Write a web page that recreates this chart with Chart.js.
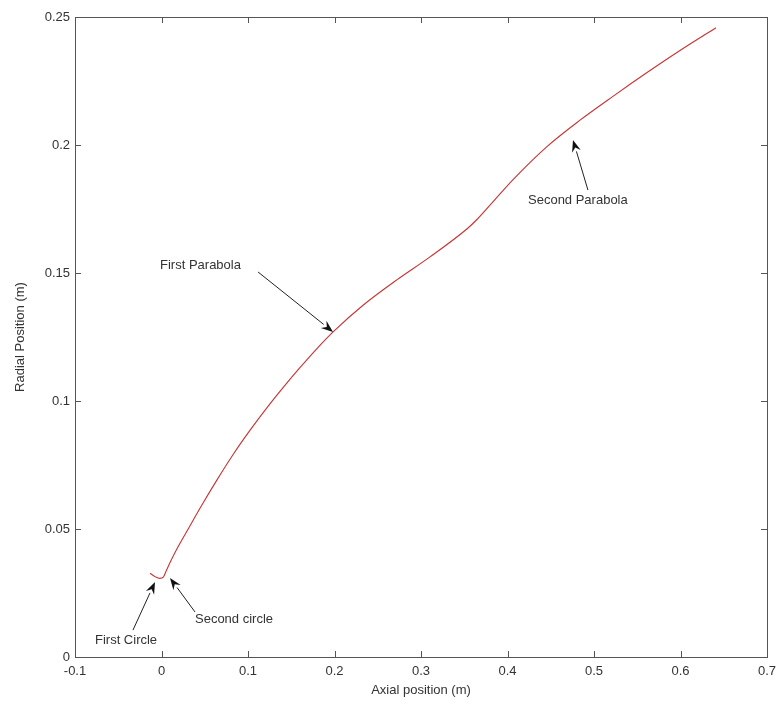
<!DOCTYPE html>
<html>
<head>
    <title>Radial vs Axial position</title>
    <script src="https://cdn.jsdelivr.net/npm/chart.js"></script>
    <style>
        html, body { margin: 0; padding: 0; background: #fff; }
        .chart-container { width: 780px; height: 706px; }
    </style>
</head>
<body>
<div class="chart-container">
    <canvas id="profileChart"></canvas>
</div>

<script>
    // curve (m)
    const axialPos = [-0.0133, -0.0070, -0.0020, 0.0021, 0.0050, 0.0100, 0.0176, 0.032, 0.045, 0.064,
        0.083, 0.102, 0.122, 0.141, 0.160, 0.180, 0.199, 0.233, 0.272, 0.310,
        0.353, 0.3644, 0.386, 0.4067, 0.4453, 0.4838, 0.5223, 0.5609, 0.5994, 0.641];
    const radialPos = [0.0327, 0.0313, 0.0307, 0.0312, 0.0333, 0.0370, 0.0421, 0.0507, 0.0584, 0.0691,
        0.0792, 0.0884, 0.0974, 0.1054, 0.1130, 0.1206, 0.1272, 0.1374, 0.1473, 0.1562,
        0.1672, 0.1708, 0.1789, 0.1866, 0.1993, 0.2097, 0.2191, 0.2282, 0.2369, 0.2458];

    const xTicks = [-0.1, 0, 0.1, 0.2, 0.3, 0.4, 0.5, 0.6, 0.7];
    const yTicks = [0, 0.05, 0.1, 0.15, 0.2, 0.25];

    // annotations: label position, arrow tail, arrow tip (data coords)
    const notes = [
        { text: 'First Parabola',  tx: -0.0017, ty: 0.153,  x0: 0.1116, y0: 0.1504, x1: 0.1983, y1: 0.127 },
        { text: 'Second Parabola', tx: 0.4237,  ty: 0.1785, x0: 0.493,  y0: 0.1824, x1: 0.4757, y1: 0.202 },
        { text: 'Second circle',   tx: 0.0387,  ty: 0.0145, x0: 0.0387, y0: 0.0176, x1: 0.0098, y1: 0.0309 },
        { text: 'First Circle',    tx: -0.0769, ty: 0.0066, x0: -0.033, y0: 0.0105, x1: -0.0075, y1: 0.0293 }
    ];

    const lineColor = 'rgb(200, 50, 50)';
    const textColor = '#333';
    const fontFamily = '"Liberation Sans", Arial, sans-serif';

    const points = axialPos.map((x, i) => ({ x: x, y: radialPos[i] }));

    // box around the plot with inward tick marks, like matlab
    const boxPlugin = {
        id: 'box',
        afterDraw(chart) {
            const { ctx, chartArea: a, scales } = chart;
            ctx.save();
            ctx.strokeStyle = '#555';
            ctx.lineWidth = 1;
            ctx.strokeRect(a.left + 0.5, a.top + 0.5, a.right - a.left, a.bottom - a.top);
            ctx.beginPath();
            xTicks.forEach(v => {
                const px = Math.round(scales.x.getPixelForValue(v)) + 0.5;
                ctx.moveTo(px, a.bottom); ctx.lineTo(px, a.bottom - 6);
                ctx.moveTo(px, a.top); ctx.lineTo(px, a.top + 6);
            });
            yTicks.forEach(v => {
                const py = Math.round(scales.y.getPixelForValue(v)) + 0.5;
                ctx.moveTo(a.left, py); ctx.lineTo(a.left + 6, py);
                ctx.moveTo(a.right, py); ctx.lineTo(a.right - 6, py);
            });
            ctx.stroke();
            ctx.restore();
        }
    };

    const notePlugin = {
        id: 'notes',
        afterDatasetsDraw(chart) {
            const { ctx, scales } = chart;
            ctx.save();
            ctx.font = '13px ' + fontFamily;
            ctx.textBaseline = 'middle';
            notes.forEach(n => {
                ctx.fillStyle = textColor;
                ctx.fillText(n.text, scales.x.getPixelForValue(n.tx), scales.y.getPixelForValue(n.ty));
                const x0 = scales.x.getPixelForValue(n.x0), y0 = scales.y.getPixelForValue(n.y0);
                const x1 = scales.x.getPixelForValue(n.x1), y1 = scales.y.getPixelForValue(n.y1);
                const ang = Math.atan2(y1 - y0, x1 - x0);
                const len = 12, half = 4.5;
                const bx = x1 - len * Math.cos(ang), by = y1 - len * Math.sin(ang);
                ctx.strokeStyle = '#222';
                ctx.lineWidth = 1;
                ctx.beginPath();
                ctx.moveTo(x0, y0);
                ctx.lineTo(bx, by);
                ctx.stroke();
                ctx.fillStyle = '#111';
                ctx.beginPath();
                ctx.moveTo(x1, y1);
                ctx.lineTo(bx + half * Math.sin(ang), by - half * Math.cos(ang));
                ctx.lineTo(x1 - 8 * Math.cos(ang), y1 - 8 * Math.sin(ang));
                ctx.lineTo(bx - half * Math.sin(ang), by + half * Math.cos(ang));
                ctx.closePath();
                ctx.fill();
            });
            ctx.restore();
        }
    };

    const fmt = v => String(+v.toFixed(2));

    new Chart(document.getElementById('profileChart'), {
        type: 'scatter',
        data: {
            datasets: [{
                label: 'profile',
                data: points,
                showLine: true,
                borderColor: lineColor,
                borderWidth: 1.1,
                pointRadius: 0,
                tension: 0.2,
                cubicInterpolationMode: 'monotone'
            }]
        },
        options: {
            responsive: true,
            maintainAspectRatio: false,
            animation: false,
            layout: { padding: { top: 17, right: 13, left: 0, bottom: 0 } },
            plugins: {
                legend: { display: false },
                tooltip: { enabled: false }
            },
            scales: {
                x: {
                    type: 'linear',
                    min: -0.1,
                    max: 0.7,
                    grid: { display: false, drawTicks: false },
                    border: { display: false },
                    afterBuildTicks: s => { s.ticks = xTicks.map(v => ({ value: v })); },
                    afterFit: s => { s.height = 49; s.paddingLeft = 0; s.paddingRight = 0; },
                    ticks: {
                        padding: 7,
                        color: textColor,
                        font: { family: fontFamily, size: 13 },
                        maxRotation: 0,
                        autoSkip: false,
                        callback: fmt
                    },
                    title: {
                        display: true,
                        text: 'Axial position (m)',
                        color: textColor,
                        font: { family: fontFamily, size: 13 },
                        padding: { top: 0, bottom: 8 }
                    }
                },
                y: {
                    type: 'linear',
                    min: 0,
                    max: 0.25,
                    grid: { display: false, drawTicks: false },
                    border: { display: false },
                    afterBuildTicks: s => { s.ticks = yTicks.map(v => ({ value: v })); },
                    afterFit: s => { s.width = 75; s.paddingTop = 0; s.paddingBottom = 0; },
                    ticks: {
                        padding: 5,
                        color: textColor,
                        font: { family: fontFamily, size: 13 },
                        autoSkip: false,
                        callback: fmt
                    },
                    title: {
                        display: true,
                        text: 'Radial Position (m)',
                        color: textColor,
                        font: { family: fontFamily, size: 13 },
                        padding: { top: 13, bottom: 0 }
                    }
                }
            }
        },
        plugins: [boxPlugin, notePlugin]
    });
</script>
</body>
</html>
